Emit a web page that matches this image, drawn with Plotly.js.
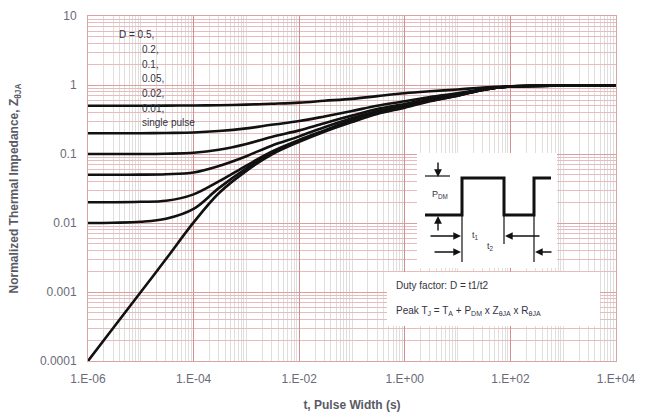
<!DOCTYPE html>
<html>
<head>
<meta charset="utf-8">
<script src="https://cdn.plot.ly/plotly-3.0.1.min.js"></script>
<style>html,body{margin:0;padding:0;background:#fff;}#chart{width:647px;height:419px;}</style>
</head>
<body>
<div id="chart"></div>
<script>
// ---- data ----
const pulseWidth = [1e-6, 3e-6, 1e-5, 3e-5, 1e-4, 3e-4, 1e-3, 3e-3, 1e-2, 3e-2, 1e-1, 3e-1, 1, 3, 10, 30, 100, 1e3, 1e4];
const zD050 = [0.50, 0.50, 0.50, 0.502, 0.505, 0.51, 0.52, 0.535, 0.555, 0.59, 0.63, 0.69, 0.76, 0.81, 0.86, 0.92, 0.96, 0.98, 0.98];
const zD020 = [0.20, 0.20, 0.20, 0.202, 0.205, 0.215, 0.235, 0.265, 0.30, 0.35, 0.42, 0.50, 0.58, 0.67, 0.76, 0.87, 0.95, 0.98, 0.98];
const zD010 = [0.10, 0.10, 0.10, 0.101, 0.104, 0.115, 0.14, 0.177, 0.22, 0.28, 0.36, 0.45, 0.53, 0.63, 0.73, 0.86, 0.95, 0.98, 0.98];
const zD005 = [0.05, 0.05, 0.0502, 0.051, 0.054, 0.067, 0.093, 0.132, 0.18, 0.245, 0.33, 0.42, 0.51, 0.61, 0.72, 0.86, 0.95, 0.98, 0.98];
const zD002 = [0.02, 0.02, 0.0203, 0.021, 0.026, 0.04, 0.068, 0.108, 0.16, 0.22, 0.31, 0.40, 0.49, 0.60, 0.71, 0.85, 0.95, 0.98, 0.98];
const zD001 = [0.01, 0.0101, 0.0104, 0.0115, 0.016, 0.032, 0.062, 0.103, 0.155, 0.215, 0.30, 0.39, 0.48, 0.59, 0.70, 0.85, 0.95, 0.98, 0.98];
const zSingle = [0.0001, 0.0003, 0.001, 0.003, 0.0102, 0.027, 0.057, 0.098, 0.15, 0.21, 0.29, 0.38, 0.47, 0.58, 0.70, 0.85, 0.95, 0.98, 0.98];
const seriesNames = ['D = 0.5', '0.2', '0.1', '0.05', '0.02', '0.01', 'single pulse'];
const curveLabels = ['D = 0.5,', '0.2,', '0.1,', '0.05,', '0.02,', '0.01,', 'single pulse'];
const xTickVals = [1e-6, 1e-4, 1e-2, 1, 1e2, 1e4];
const xTickText = ['1.E-06', '1.E-04', '1.E-02', '1.E+00', '1.E+02', '1.E+04'];
const yTickVals = [1e-4, 1e-3, 1e-2, 1e-1, 1, 10];
const yTickText = ['0.0001', '0.001', '0.01', '0.1', '1', '10'];
const dutyText = 'Duty factor: D = t1/t2';
const peakText = 'Peak T<sub>J</sub> = T<sub>A</sub> + P<sub>DM</sub> x Z<sub>θJA</sub> x R<sub>θJA</sub>';

// ---- layout geometry (pixels) ----
const W = 647, H = 419;
const L = 88, R = 616, T = 16, B = 361;
const px = x => (x - L) / (R - L);
const py = y => (B - y) / (B - T);

const allSeries = [zD050, zD020, zD010, zD005, zD002, zD001, zSingle];
const traces = allSeries.map((z, i) => ({
  x: pulseWidth, y: z, name: seriesNames[i], type: 'scatter', mode: 'lines',
  line: {color: '#111', width: 2.6, shape: 'spline', smoothing: 1},
  hoverinfo: 'skip'
}));

const textColor = '#333344';
const annotations = [];
curveLabels.forEach((t, i) => {
  annotations.push({
    xref: 'paper', yref: 'paper', x: px(i === 0 ? 117 : 140), y: py(35 + i * 14.6),
    text: t, showarrow: false, xanchor: 'left', yanchor: 'middle',
    font: {family: 'Liberation Sans, Arial, sans-serif', size: 10, color: textColor}
  });
});

// inset text
annotations.push({xref:'paper', yref:'paper', x: px(440), y: py(194), text: 'P<sub>DM</sub>', showarrow:false,
  font:{family:'Liberation Sans, Arial', size:9, color:textColor}});
annotations.push({xref:'paper', yref:'paper', x: px(481), y: py(236), text: 't<sub>1</sub>', showarrow:false,
  font:{family:'Liberation Sans, Arial', size:9, color:textColor}});
annotations.push({xref:'paper', yref:'paper', x: px(496), y: py(254), text: 't<sub>2</sub>', showarrow:false,
  font:{family:'Liberation Sans, Arial', size:9, color:textColor}});
annotations.push({xref:'paper', yref:'paper', x: px(394), y: py(285), text: dutyText, showarrow:false,
  xanchor:'left', yanchor:'middle', font:{family:'Liberation Sans, Arial', size:10, color:textColor}});
annotations.push({xref:'paper', yref:'paper', x: px(394), y: py(311), text: peakText, showarrow:false,
  xanchor:'left', yanchor:'middle', font:{family:'Liberation Sans, Arial', size:10, color:textColor}});

// inset arrows: [headX, headY, ax, ay]
const arrows = [
  [438, 177, 0, -16], [438, 216, 0, 16],
  [461, 236, -32, 0], [505, 236, 36, 0],
  [461, 252, -28, 0], [535, 252, 18, 0]
];
arrows.forEach(a => annotations.push({
  xref:'paper', yref:'paper', x: px(a[0]), y: py(a[1]), ax: a[2], ay: a[3], text: '',
  showarrow: true, arrowhead: 2, arrowsize: 1.1, arrowwidth: 1.4, arrowcolor: '#111'
}));

const P = (x, y) => px(x) + ',' + py(y);
const shapes = [
  {type:'rect', xref:'paper', yref:'paper', x0: px(417), x1: px(557), y0: py(153), y1: py(268),
    fillcolor:'#fff', line:{width:0}, layer:'above'},
  {type:'rect', xref:'paper', yref:'paper', x0: px(387), x1: px(600), y0: py(272), y1: py(326),
    fillcolor:'#fff', line:{width:0}, layer:'above'},
  {type:'path', xref:'paper', yref:'paper',
    path: 'M' + P(425,215) + 'L' + P(462,215) + 'L' + P(462,178) + 'L' + P(504,178) + 'L' + P(504,215) +
          'L' + P(534,215) + 'L' + P(534,178) + 'L' + P(551,178),
    line:{color:'#111', width:3}, layer:'above'},
  {type:'line', xref:'paper', yref:'paper', x0: px(425), x1: px(450), y0: py(176), y1: py(176),
    line:{color:'#111', width:1.2}, layer:'above'},
  {type:'line', xref:'paper', yref:'paper', x0: px(462), x1: px(462), y0: py(215), y1: py(262),
    line:{color:'#111', width:1.2}, layer:'above'},
  {type:'line', xref:'paper', yref:'paper', x0: px(504), x1: px(504), y0: py(215), y1: py(244),
    line:{color:'#111', width:1.2}, layer:'above'},
  {type:'line', xref:'paper', yref:'paper', x0: px(534), x1: px(534), y0: py(215), y1: py(262),
    line:{color:'#111', width:1.2}, layer:'above'}
];

const tickFont = {family: 'Liberation Sans, Arial, sans-serif', size: 12, color: '#6a6a78'};
const titleFont = {family: 'Liberation Sans, Arial, sans-serif', size: 12, color: '#5a5a66', weight: 'bold'};

const layout = {
  width: W, height: H,
  margin: {l: L, r: W - R, t: T, b: H - B},
  paper_bgcolor: '#fff', plot_bgcolor: '#fff',
  showlegend: false,
  xaxis: {
    type: 'log', range: [-6, 4],
    tickmode: 'array', tickvals: xTickVals, ticktext: xTickText,
    ticks: '', tickfont: tickFont, ticklabelstandoff: 7,
    showgrid: true, gridcolor: '#d48e8e', gridwidth: 1,
    minor: {dtick: 'D1', showgrid: true, gridcolor: '#dedede', gridwidth: 1, ticks: ''},
    showline: true, linecolor: '#d9a3a3', linewidth: 1, mirror: true, zeroline: false,
    title: {text: '<b>t, Pulse Width (s)</b>', font: titleFont, standoff: 15}
  },
  yaxis: {
    type: 'log', range: [-4, 1],
    tickmode: 'array', tickvals: yTickVals, ticktext: yTickText,
    ticks: '', tickfont: tickFont, ticklabelstandoff: 8,
    showgrid: true, gridcolor: '#d9a0a0', gridwidth: 1,
    minor: {dtick: 'D1', showgrid: true, gridcolor: '#e6bcbc', gridwidth: 1, ticks: ''},
    showline: true, linecolor: '#d9a3a3', linewidth: 1, mirror: true, zeroline: false,
    title: {text: '<b>Normalized Thermal Impedance, Z<sub>θJA</sub></b>', font: titleFont, standoff: 18}
  },
  annotations: annotations,
  shapes: shapes
};

Plotly.newPlot('chart', traces, layout, {displayModeBar: false, staticPlot: true});
</script>
</body>
</html>
